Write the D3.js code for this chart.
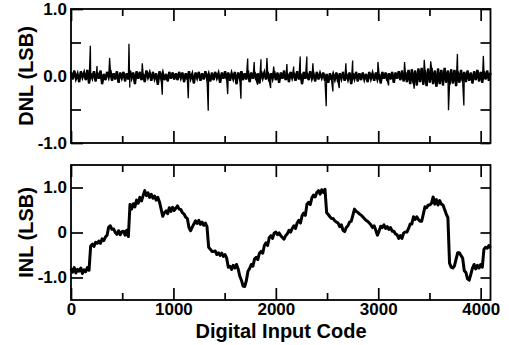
<!DOCTYPE html>
<html lang="en">
<head>
    <meta charset="UTF-8">
    <title>DNL / INL</title>
    <script src="https://d3js.org/d3.v7.min.js"></script>
    <style>
        body { margin: 0; background: #fff; }
        svg text { font-family: "Liberation Sans", Arial, Helvetica, sans-serif; font-weight: bold; fill: #000; }
    </style>
</head>
<body>
<div id="chart"></div>
<script>
    // codes sampled every 16 LSB for the noise floor of DNL
    const codeStep = 16;
    const dnlNoise = [
        0.06,-0.05,0.08,-0.04,0.03,-0.09,0.07,-0.02,0.05,-0.06,0.09,-0.11,0.04,-0.03,0.07,-0.08,
        0.05,-0.04,0.08,-0.12,0.03,-0.06,0.06,-0.02,0.09,-0.07,0.04,-0.05,0.07,-0.10,0.05,-0.03,
        0.06,-0.08,0.04,-0.05,0.08,-0.03,0.05,-0.12,0.07,-0.04,0.06,-0.06,0.03,-0.09,0.08,-0.02,
        0.05,-0.07,0.06,-0.04,0.04,-0.13,0.07,-0.03,0.05,-0.06,0.03,-0.08,0.06,-0.04,0.05,-0.05,
        0.04,-0.06,0.06,-0.03,0.05,-0.09,0.04,-0.05,0.07,-0.04,0.03,-0.11,0.05,-0.03,0.06,-0.07,
        0.04,-0.05,0.07,-0.04,0.03,-0.08,0.05,-0.06,0.06,-0.03,0.04,-0.10,0.05,-0.04,0.07,-0.05,
        0.05,-0.07,0.04,-0.04,0.06,-0.12,0.05,-0.03,0.07,-0.06,0.04,-0.05,0.08,-0.09,0.05,-0.04,
        0.06,-0.06,0.04,-0.11,0.07,-0.03,0.05,-0.05,0.06,-0.08,0.04,-0.04,0.07,-0.06,0.05,-0.10,
        0.05,-0.04,0.08,-0.06,0.04,-0.09,0.06,-0.03,0.05,-0.07,0.07,-0.05,0.04,-0.12,0.06,-0.04,
        0.05,-0.06,0.07,-0.04,0.03,-0.08,0.06,-0.05,0.04,-0.03,0.05,-0.07,0.03,-0.10,0.04,-0.06,
        0.03,-0.05,0.05,-0.09,0.04,-0.04,0.06,-0.07,0.03,-0.05,0.05,-0.12,0.04,-0.04,0.06,-0.08,
        0.04,-0.06,0.05,-0.05,0.03,-0.09,0.06,-0.04,0.04,-0.07,0.05,-0.05,0.03,-0.11,0.06,-0.04,
        0.05,-0.07,0.04,-0.05,0.06,-0.10,0.05,-0.04,0.07,-0.06,0.08,-0.08,0.06,-0.09,0.09,-0.12,
        0.10,-0.11,0.08,-0.14,0.11,-0.09,0.12,-0.13,0.09,-0.15,0.11,-0.10,0.12,-0.12,0.08,-0.16,
        0.11,-0.12,0.09,-0.14,0.12,-0.10,0.08,-0.13,0.10,-0.11,0.09,-0.15,0.07,-0.10,0.09,-0.08,
        0.06,-0.09,0.08,-0.07,0.05,-0.11,0.07,-0.06,0.09,-0.08,0.06,-0.10,0.07,-0.05,0.08,-0.07,
        0.05
    ];

    // isolated DNL spikes: [code, LSB]
    const dnlSpikes = [
        [189, 0.45], [254, 0.15], [377, 0.27], [566, 0.48], [574, -0.17], [696, 0.19],
        [891, -0.28], [1145, -0.33], [1340, -0.52], [1530, -0.27], [1659, -0.34],
        [1725, 0.26], [1789, 0.21], [1822, -0.13], [1855, 0.25], [1913, 0.27],
        [1949, -0.18], [1979, 0.14], [2108, 0.18], [2174, 0.14], [2238, 0.29],
        [2303, 0.29], [2362, 0.19], [2492, -0.45], [2557, -0.23], [2619, -0.18],
        [2684, 0.19], [2750, 0.23], [2997, 0.21], [3101, -0.14], [3257, 0.21],
        [3351, -0.19], [3449, 0.24], [3512, 0.22], [3686, -0.51], [3773, 0.33],
        [3836, -0.44], [4026, 0.30]
    ];

    // INL every 16 codes
    const inl = [
        -0.80,-0.88,-0.78,-0.90,-0.82,-0.86,-0.79,-0.91,-0.83,-0.87,-0.78,-0.84,-0.30,-0.26,-0.31,-0.22,
        -0.24,-0.19,-0.24,-0.14,-0.18,-0.10,-0.06,0.12,0.15,0.07,0.08,0.00,-0.04,0.04,-0.05,0.02,
        0.03,-0.06,0.05,-0.09,0.62,0.52,0.64,0.57,0.72,0.65,0.78,0.70,0.82,0.93,0.82,0.88,
        0.78,0.85,0.76,0.81,0.72,0.78,0.68,0.52,0.36,0.44,0.48,0.42,0.55,0.47,0.56,0.49,
        0.54,0.59,0.52,0.51,0.44,0.41,0.34,0.31,0.11,0.04,0.12,0.19,0.26,0.20,0.27,0.18,
        0.23,0.16,0.21,0.13,-0.33,-0.37,-0.42,-0.42,-0.41,-0.49,-0.45,-0.51,-0.46,-0.53,-0.49,-0.57,
        -0.77,-0.75,-0.82,-0.73,-0.79,-0.71,-0.81,-0.97,-1.06,-1.19,-1.20,-1.07,-0.86,-0.80,-0.71,-0.75,
        -0.59,-0.55,-0.60,-0.46,-0.42,-0.46,-0.29,-0.23,-0.29,-0.11,-0.07,-0.13,-0.01,0.01,-0.05,-0.01,
        -0.07,-0.11,-0.15,-0.07,-0.03,0.05,0.01,0.09,0.15,0.09,0.21,0.27,0.21,0.37,0.43,0.38,
        0.63,0.67,0.62,0.77,0.83,0.79,0.89,0.93,0.85,0.95,0.89,0.96,0.44,0.40,0.35,0.31,
        0.31,0.26,0.23,0.21,0.13,0.17,0.05,0.02,0.11,0.15,0.23,0.25,0.38,0.52,0.47,0.45,
        0.41,0.39,0.35,0.31,0.27,0.25,0.21,0.17,0.11,0.15,0.05,-0.06,0.03,0.14,0.11,0.17,
        0.09,0.13,0.07,0.11,0.03,0.03,-0.03,-0.05,-0.13,-0.07,-0.13,-0.01,0.01,0.01,0.09,0.19,
        0.19,0.35,0.29,0.35,0.29,0.25,0.25,0.41,0.57,0.55,0.61,0.61,0.65,0.79,0.63,0.73,
        0.61,0.71,0.63,0.61,0.51,0.41,0.33,-0.68,-0.77,-0.79,-0.74,-0.59,-0.45,-0.45,-0.51,-0.57,
        -0.85,-0.89,-1.03,-1.06,-0.93,-0.79,-0.71,-0.81,-0.73,-0.79,-0.71,-0.77,-0.37,-0.33,-0.35,-0.29,
        -0.34
    ];

    const xMajor = [0, 1000, 2000, 3000, 4000];
    const xMinor = [500, 1500, 2500, 3500];
    const dnlTicks = [1, 0, -1];
    const dnlTickLabels = ["1.0", "0.0", "-1.0"];
    const dnlMinor = [0.5, -0.5];
    const inlTicks = [1, 0, -1];
    const inlTickLabels = ["1.0", "0", "-1.0"];

    const W = 509, H = 345;
    const left = 71, right = 490.5;
    const top1 = 9, bot1 = 143, top2 = 165, bot2 = 300;

    const svg = d3.select("#chart").append("svg")
        .attr("width", W).attr("height", H);

    const x = d3.scaleLinear().domain([0, 4096]).range([left, right]);
    const yD = d3.scaleLinear().domain([-1, 1]).range([bot1, top1]);
    const yI = d3.scaleLinear().domain([-1.5, 1.5]).range([bot2, top2]);

    // build DNL series: noise floor plus spikes, sorted by code
    const noiseData = dnlNoise.map((v, i) => [i * codeStep, v]);
    const dnlData = noiseData.concat(dnlSpikes).sort((a, b) => a[0] - b[0]);
    const inlData = inl.map((v, i) => [i * codeStep, v]);

    function panel(y, yt, ylab, ymin, top, bot, showX) {
        const g = svg.append("g");

        const mk = (axisFn, vals, size, pos, horiz) => {
            const a = g.append("g")
                .attr("transform", horiz ? `translate(0,${pos})` : `translate(${pos},0)`)
                .call(axisFn(horiz ? x : y).tickValues(vals).tickSize(size).tickFormat(""));
            a.select(".domain").remove();
            a.selectAll("line").attr("stroke", "#000").attr("stroke-width", 1.7);
            return a;
        };

        // x ticks, bottom carries labels
        const xb = g.append("g").attr("transform", `translate(0,${bot})`)
            .call(d3.axisBottom(x).tickValues(xMajor).tickSize(-12)
                .tickFormat(showX ? d3.format("d") : ""));
        xb.select(".domain").remove();
        xb.selectAll("line").attr("stroke", "#000").attr("stroke-width", 1.7);
        xb.selectAll("text").attr("y", 3).attr("dy", "0.71em").style("font-size", "17px");
        mk(d3.axisBottom, xMinor, -7, bot, true);
        mk(d3.axisTop, xMajor, -12, top, true);
        mk(d3.axisTop, xMinor, -7, top, true);

        // y ticks left carries labels
        const yl = g.append("g").attr("transform", `translate(${left},0)`)
            .call(d3.axisLeft(y).tickValues(yt).tickSize(-12).tickPadding(4)
                .tickFormat((d, i) => ylab[i]));
        yl.select(".domain").remove();
        yl.selectAll("line").attr("stroke", "#000").attr("stroke-width", 1.7);
        yl.selectAll("text").style("font-size", "17px");
        mk(d3.axisRight, yt, -10, right, false);
        if (ymin.length) {
            mk(d3.axisLeft, ymin, -10, left, false);
            mk(d3.axisRight, ymin, -10, right, false);
        }

        g.append("rect")
            .attr("x", left).attr("y", top)
            .attr("width", right - left).attr("height", bot - top)
            .attr("fill", "none").attr("stroke", "#000").attr("stroke-width", 1.8);
        return g;
    }

    panel(yD, dnlTicks, dnlTickLabels, dnlMinor, top1, bot1, false);
    panel(yI, inlTicks, inlTickLabels, [], top2, bot2, true);

    const line = (y) => d3.line().x(d => x(d[0])).y(d => y(d[1]));

    // the dense noise floor is drawn a little heavier so it reads as a solid band
    svg.append("path").datum(noiseData)
        .attr("d", line(yD))
        .attr("fill", "none").attr("stroke", "#000").attr("stroke-width", 2.4);

    svg.append("path").datum(dnlData)
        .attr("d", line(yD))
        .attr("fill", "none").attr("stroke", "#000").attr("stroke-width", 1.3);

    svg.append("path").datum(inlData)
        .attr("d", line(yI))
        .attr("fill", "none").attr("stroke", "#000").attr("stroke-width", 3)
        .attr("stroke-linejoin", "round");

    // axis titles
    svg.append("text")
        .attr("x", 281).attr("y", 337.5)
        .attr("text-anchor", "middle")
        .style("font-size", "20px")
        .text("Digital Input Code");

    svg.append("text")
        .attr("transform", `translate(32.5,${(top1 + bot1) / 2}) rotate(-90)`)
        .attr("text-anchor", "middle")
        .style("font-size", "20px")
        .text("DNL (LSB)");

    svg.append("text")
        .attr("transform", `translate(32.5,${(top2 + bot2) / 2}) rotate(-90)`)
        .attr("text-anchor", "middle")
        .style("font-size", "20px")
        .text("INL (LSB)");
</script>
</body>
</html>
